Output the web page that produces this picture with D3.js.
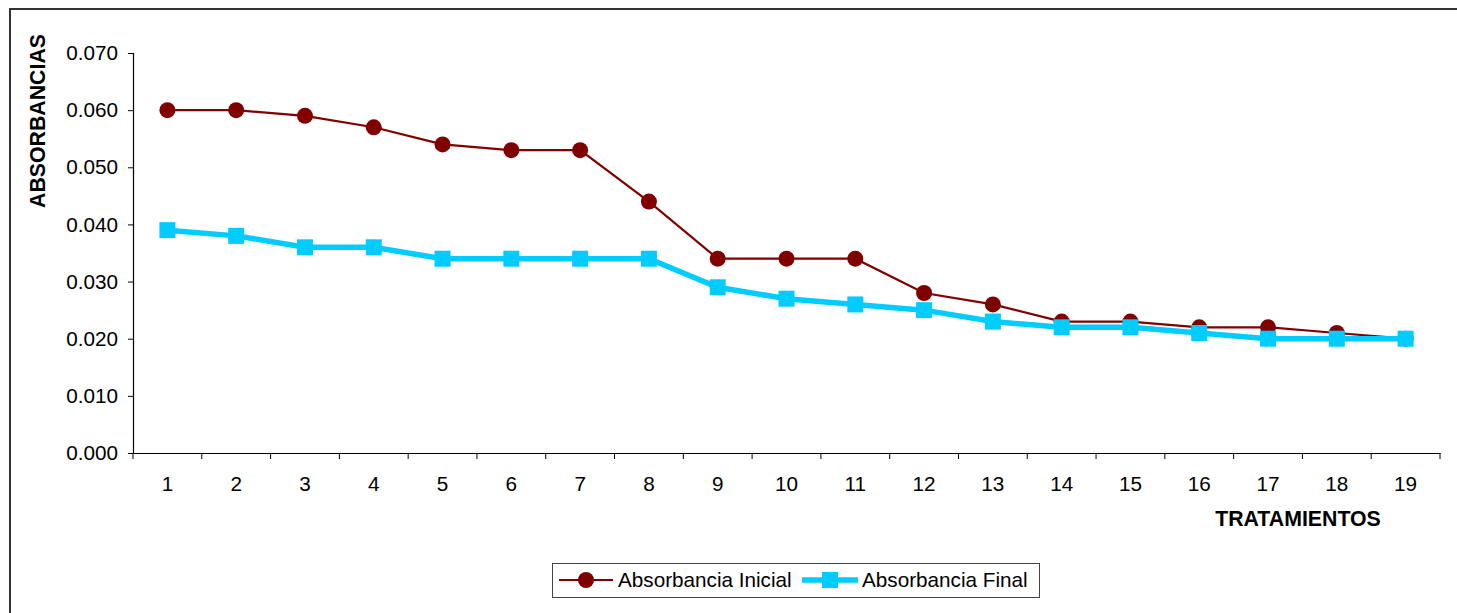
<!DOCTYPE html>
<html><head><meta charset="utf-8">
<script src="https://cdn.jsdelivr.net/npm/d3@7"></script>
<style>body{margin:0;background:#fff}svg{display:block}</style>
</head><body>
<script>
const categories = ["1","2","3","4","5","6","7","8","9","10","11","12","13","14","15","16","17","18","19"];
const inicial = [0.060,0.060,0.059,0.057,0.054,0.053,0.053,0.044,0.034,0.034,0.034,0.028,0.026,0.023,0.023,0.022,0.022,0.021,0.020];
const final_ = [0.039,0.038,0.036,0.036,0.034,0.034,0.034,0.034,0.029,0.027,0.026,0.025,0.023,0.022,0.022,0.021,0.020,0.020,0.020];
const yTicks = [0,0.01,0.02,0.03,0.04,0.05,0.06,0.07];
const seriesNames = ["Absorbancia Inicial","Absorbancia Final"];

(function(){
const W=1457,H=613;
const svg=d3.select("body").append("svg").attr("width",W).attr("height",H);
svg.append("rect").attr("x",10).attr("y",9).attr("width",W+20).attr("height",H+20)
  .attr("fill","#fff").attr("stroke","#333").attr("stroke-width",2);

const pL=133,pR=1440,pT=53,pB=453;
const x=d3.scaleBand().domain(categories).range([pL,pR]);
const y=d3.scaleLinear().domain([0,0.07]).range([pB,pT]);
const font="Arial, 'Liberation Sans', sans-serif";
const fs=20.7;

const ya=svg.append("g").attr("transform",`translate(${pL},0)`)
  .call(d3.axisLeft(y).tickValues(yTicks).tickFormat(d3.format(".3f")).tickSize(5).tickPadding(10));
ya.select(".domain").attr("stroke","#000").attr("stroke-width",1.2);
ya.selectAll(".tick line").attr("stroke","#000");
ya.selectAll("text").attr("font-family",font).attr("font-size",fs).attr("fill","#000");

const xa=svg.append("g").attr("transform",`translate(0,${pB})`)
  .call(d3.axisBottom(x).tickSize(0).tickPadding(23));
xa.select(".domain").attr("stroke","#000").attr("stroke-width",1.2);
xa.selectAll("text").attr("font-family",font).attr("font-size",fs).attr("fill","#000");
const bounds=categories.map(c=>x(c)).concat([x(categories[categories.length-1])+x.bandwidth()]);
svg.append("g").selectAll("line").data(bounds).join("line")
  .attr("x1",d=>d).attr("x2",d=>d).attr("y1",pB).attr("y2",pB+6).attr("stroke","#000");

const cx=c=>x(c)+x.bandwidth()/2;

const line1=d3.line().x((d,i)=>cx(categories[i])).y(d=>y(d));
svg.append("path").datum(inicial).attr("d",line1).attr("fill","none").attr("stroke","#800000").attr("stroke-width",2.2);
svg.append("g").selectAll("circle").data(inicial).join("circle")
  .attr("cx",(d,i)=>cx(categories[i])).attr("cy",d=>y(d)).attr("r",8).attr("fill","#800000");

svg.append("path").datum(final_).attr("d",line1).attr("fill","none").attr("stroke","#00CCFF").attr("stroke-width",5.5);
svg.append("g").selectAll("rect").data(final_).join("rect")
  .attr("x",(d,i)=>cx(categories[i])-8).attr("y",d=>y(d)-8).attr("width",16).attr("height",16).attr("fill","#00CCFF");

svg.append("text").attr("transform","translate(45,121) rotate(-90)").attr("text-anchor","middle")
  .attr("font-family",font).attr("font-weight","bold").attr("font-size",21.3).text("ABSORBANCIAS");
svg.append("text").attr("x",1298).attr("y",526).attr("text-anchor","middle")
  .attr("font-family",font).attr("font-weight","bold").attr("font-size",21.3).text("TRATAMIENTOS");

const lg=svg.append("g");
lg.append("rect").attr("x",552.5).attr("y",563.5).attr("width",487).attr("height",34).attr("fill","#fff").attr("stroke","#444").attr("stroke-width",1);
lg.append("line").attr("x1",559).attr("x2",613).attr("y1",580).attr("y2",580).attr("stroke","#800000").attr("stroke-width",2.2);
lg.append("circle").attr("cx",586).attr("cy",580).attr("r",8).attr("fill","#800000");
lg.append("text").attr("x",618).attr("y",587).attr("font-family",font).attr("font-size",fs).text(seriesNames[0]);
lg.append("line").attr("x1",802).attr("x2",858).attr("y1",580).attr("y2",580).attr("stroke","#00CCFF").attr("stroke-width",5.5);
lg.append("rect").attr("x",822).attr("y",572).attr("width",16).attr("height",16).attr("fill","#00CCFF");
lg.append("text").attr("x",862).attr("y",587).attr("font-family",font).attr("font-size",fs).text(seriesNames[1]);
})();
</script>
</body></html>
